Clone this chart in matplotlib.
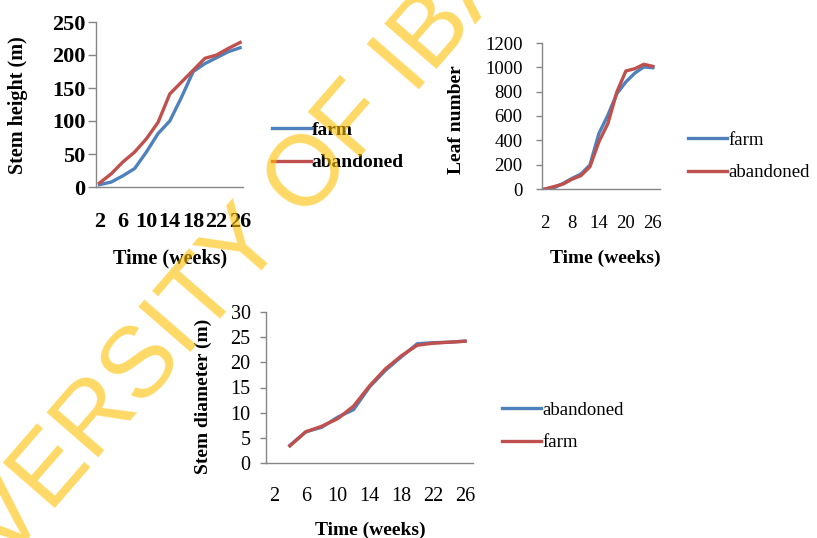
import numpy as np
import matplotlib
matplotlib.use('Agg')
import matplotlib.pyplot as plt

weeks = [2, 4, 6, 8, 10, 12, 14, 16, 18, 20, 22, 24, 26]

height_farm = [3.5, 7.5, 17, 28, 53, 81, 100, 136, 175, 187, 196, 205, 211]
height_abandoned = [6, 20, 38, 53, 73, 98, 141, 159, 177, 195, 200, 210, 219]

leaf_farm = [0, 10, 45, 87, 123, 197, 456, 607, 784, 880, 953, 1003, 997]
leaf_abandoned = [0, 20, 40, 80, 110, 183, 388, 538, 798, 970, 989, 1025, 1008]

diam_weeks = [4, 6, 8, 10, 12, 14, 16, 18, 20, 22, 24, 26]
diam_abandoned = [3.5, 6.2, 7.1, 9.1, 10.6, 15.1, 18.4, 21.1, 23.7, 23.9, 24.0, 24.2]
diam_farm = [3.4, 6.2, 7.3, 8.8, 11.3, 15.3, 18.7, 21.3, 23.4, 23.8, 24.0, 24.2]

BLUE = '#4F81BD'
RED = '#C0504D'
GREY = '#868686'
W, H = 817, 538

plt.rcParams['font.family'] = 'Liberation Serif'

fig = plt.figure(figsize=(W / 100, H / 100), dpi=100)


def make_axes(left, right, top, bottom):
    return fig.add_axes([left / W, 1 - bottom / H, (right - left) / W, (bottom - top) / H])


def style(ax, bold, ticksize, ticklen, ypad, xpad):
    ax.set_facecolor('none')
    for s in ['top', 'right']:
        ax.spines[s].set_visible(False)
    for s in ['left', 'bottom']:
        ax.spines[s].set_color(GREY)
        ax.spines[s].set_linewidth(1.0)
    ax.tick_params(axis='y', direction='out', length=ticklen, color=GREY, width=1.0,
                   labelsize=ticksize, pad=ypad)
    ax.tick_params(axis='x', length=0, labelsize=ticksize, pad=xpad)
    if bold:
        for t in ax.get_xticklabels() + ax.get_yticklabels():
            t.set_fontweight('bold')


# --- stem height
ax1 = make_axes(96, 243, 22, 187)
ax1.plot(weeks, height_farm, color=BLUE, lw=2.4, label='farm')
ax1.plot(weeks, height_abandoned, color=RED, lw=2.4, label='abandoned')
ax1.set_xlim(1.4, 26.5)
ax1.set_ylim(0, 250)
ax1.set_yticks(range(0, 251, 50))
ax1.set_xticks([2, 6, 10, 14, 18, 22, 26])
style(ax1, True, 16, 6, 1.5, 18)
ax1.set_ylabel('Stem height (m)', fontsize=14.5, fontweight='bold')
ax1.yaxis.set_label_coords(-0.463, 0.497)
ax1.set_xlabel('Time (weeks)', fontsize=14.5, fontweight='bold')
ax1.xaxis.set_label_coords(0.503, -0.37)
ax1.legend(loc='center left', bbox_to_anchor=(272 / W, 1 - 146.5 / H),
           bbox_transform=fig.transFigure, frameon=False, handlelength=2.0,
           handletextpad=0.05, labelspacing=0.75, borderpad=0, borderaxespad=0,
           prop={'size': 14, 'weight': 'bold'})

# --- leaf number
ax2 = make_axes(542, 660, 43, 189)
ax2.plot(weeks, leaf_farm, color=BLUE, lw=2.4, label='farm')
ax2.plot(weeks, leaf_abandoned, color=RED, lw=2.4, label='abandoned')
ax2.set_xlim(1.33, 27.6)
ax2.set_ylim(0, 1200)
ax2.set_yticks(range(0, 1201, 200))
ax2.set_xticks([2, 8, 14, 20, 26])
style(ax2, False, 13.5, 4, 10, 19)
ax2.set_ylabel('Leaf number', fontsize=14, fontweight='bold')
ax2.yaxis.set_label_coords(-0.653, 0.476)
ax2.set_xlabel('Time (weeks)', fontsize=14, fontweight='bold')
ax2.xaxis.set_label_coords(0.534, -0.418)
ax2.legend(loc='center left', bbox_to_anchor=(688 / W, 1 - 156.5 / H),
           bbox_transform=fig.transFigure, frameon=False, handlelength=2.1,
           handletextpad=0.05, labelspacing=0.8, borderpad=0, borderaxespad=0,
           prop={'size': 13.5})

# --- stem diameter
ax3 = make_axes(266, 473, 312, 463)
ax3.plot(diam_weeks, diam_abandoned, color=BLUE, lw=2.4, label='abandoned')
ax3.plot(diam_weeks, diam_farm, color=RED, lw=2.4, label='farm')
ax3.set_xlim(1.0, 27.0)
ax3.set_ylim(0, 30)
ax3.set_yticks(range(0, 31, 5))
ax3.set_xticks([2, 6, 10, 14, 18, 22, 26])
style(ax3, False, 14.5, 4.5, 6.5, 17)
ax3.set_ylabel('Stem diameter (m)', fontsize=14, fontweight='bold')
ax3.yaxis.set_label_coords(-0.26, 0.444)
ax3.set_xlabel('Time (weeks)', fontsize=14, fontweight='bold')
ax3.xaxis.set_label_coords(0.502, -0.39)
ax3.legend(loc='center left', bbox_to_anchor=(502 / W, 1 - 426.5 / H),
           bbox_transform=fig.transFigure, frameon=False, handlelength=2.1,
           handletextpad=0.05, labelspacing=0.8, borderpad=0, borderaxespad=0,
           prop={'size': 13.5})

# watermark
fig.text(276 / W, 1 - 254 / H, 'UNIVERSITY OF IBADAN', rotation=49,
         fontsize=72, family='Liberation Sans', color='#FFC000', alpha=0.6,
         ha='center', va='baseline', rotation_mode='anchor', zorder=10)

fig.savefig('out.png', dpi=100)
